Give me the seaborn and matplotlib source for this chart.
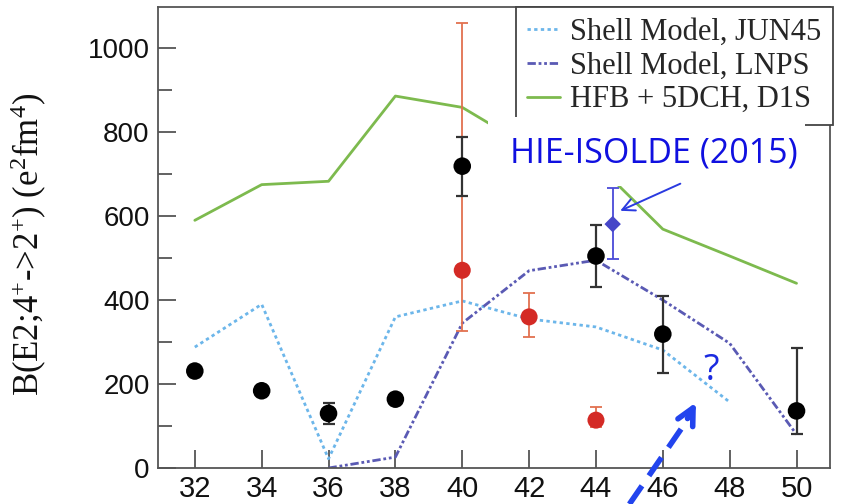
import matplotlib
matplotlib.use("Agg")
import matplotlib.pyplot as plt
import seaborn as sns
import numpy as np
import pandas as pd
from matplotlib.ticker import MultipleLocator
from matplotlib.patches import Rectangle

# ---------------- data ----------------
jun45_n = [32, 34, 36, 38, 40, 42, 44, 46, 48]
jun45 = [288, 390, 22, 360, 398, 355, 336, 281, 157]
lnps_n = [36, 38, 40, 42, 44, 46, 48, 50]
lnps = [0, 26, 345, 470, 495, 400, 297, 80]
hfb_n = [32, 34, 36, 38, 40, 42, 44, 46, 48, 50]
hfb = [590, 675, 683, 886, 859, 764, 726, 569, 505, 440]

black_n = [32, 34, 36, 38, 40, 44, 46, 50]
black_val = [231, 184, 130, 164, 719, 505, 319, 136]
black_lo = [0, 0, 25, 0, 71, 74, 93, 55]
black_hi = [0, 0, 25, 0, 69, 75, 91, 150]

red_n = [40, 42, 44]
red_val = [471, 360, 114]
red_lo = [145, 49, 17]
red_hi = [589, 56, 31]

hie_n = [44.5]
hie_val = [581]
hie_lo = [83]
hie_hi = [86]

legend_labels = ["Shell Model, JUN45", "Shell Model, LNPS", "HFB + 5DCH, D1S"]
ylabel = r"B(E2;4$^{+}$->2$^{+}$) (e$^{2}$fm$^{4}$)"
hie_label = "HIE-ISOLDE (2015)"

# ---------------- style ----------------
sns.set_theme(style="ticks")
plt.rcParams["font.family"] = ["Liberation Sans", "DejaVu Sans"]
plt.rcParams["mathtext.fontset"] = "custom"
plt.rcParams["mathtext.rm"] = "Liberation Serif"
plt.rcParams["mathtext.it"] = "Liberation Serif:italic"

fig = plt.figure(figsize=(8.42, 5.04), dpi=100)
ax = fig.add_axes([0.1877, 0.0714, 0.7980, 0.9146])

c_jun = "#6cb6ea"
c_lnps = "#5a5ab4"
c_hfb = "#7dba4e"

df_j = pd.DataFrame({"N": jun45_n, "B": jun45})
df_l = pd.DataFrame({"N": lnps_n, "B": lnps})
df_h = pd.DataFrame({"N": hfb_n, "B": hfb})

sns.lineplot(data=df_j, x="N", y="B", ax=ax, color=c_jun, lw=2.0,
             linestyle=(0, (1.2, 1.2)), label=legend_labels[0], zorder=2)
sns.lineplot(data=df_l, x="N", y="B", ax=ax, color=c_lnps, lw=2.0,
             linestyle=(0, (3, 1, 1, 1, 1, 1)), label=legend_labels[1], zorder=2)
sns.lineplot(data=df_h, x="N", y="B", ax=ax, color=c_hfb, lw=2.0,
             linestyle="-", label=legend_labels[2], zorder=2)

# error bars
ax.errorbar(red_n, red_val, yerr=[red_lo, red_hi], fmt="none",
            ecolor="#e2714f", elinewidth=1.3, capsize=4, capthick=1.3, zorder=3)
ax.errorbar(black_n, black_val, yerr=[black_lo, black_hi], fmt="none",
            ecolor="#333333", elinewidth=1.6, capsize=4, capthick=1.6, zorder=4)
ax.errorbar(hie_n, hie_val, yerr=[hie_lo, hie_hi], fmt="none",
            ecolor="#4a4ad8", elinewidth=1.3, capsize=4, capthick=1.3, zorder=4)

sns.scatterplot(x=red_n, y=red_val, ax=ax, color="#d42a25", s=150,
                edgecolor="none", zorder=5, legend=False)
sns.scatterplot(x=black_n, y=black_val, ax=ax, color="black", s=160,
                edgecolor="none", zorder=6, legend=False)
sns.scatterplot(x=hie_n, y=hie_val, ax=ax, color="#4646c8", s=70, marker="D",
                edgecolor="none", zorder=6, legend=False)

# axes
ax.set_xlim(30.9, 51.0)
ax.set_ylim(0, 1098)
ax.xaxis.set_major_locator(MultipleLocator(2))
ax.yaxis.set_major_locator(MultipleLocator(200))
ax.yaxis.set_minor_locator(MultipleLocator(100))
ax.tick_params(axis="both", which="major", direction="in", length=13, width=1.3,
               color="#555555", labelsize=20, pad=6, labelcolor="#111111")
ax.tick_params(axis="y", which="minor", direction="in", length=10, width=1.3,
               color="#555555")
ax.tick_params(axis="x", which="major", pad=5, labelsize=21)
for sp in ax.spines.values():
    sp.set_color("#555555")
    sp.set_linewidth(1.3)
ax.set_xlabel("")
ax.set_ylabel(ylabel, fontsize=25, family="Liberation Serif", color="#111111")
ax.yaxis.set_label_coords(-0.163, 0.484)

leg = ax.legend(loc="upper right", bbox_to_anchor=(1.004, 1.0), frameon=True,
                fancybox=False, framealpha=1, edgecolor="#444444",
                prop={"family": "Liberation Serif", "size": 22},
                handlelength=1.1, handletextpad=0.33, borderpad=0.36,
                labelspacing=0.15, borderaxespad=0)
leg.get_frame().set_linewidth(1.3)
leg.set_zorder(10)

# white backing of the annotation label (covers part of the HFB line / legend edge)
ax.add_patch(Rectangle((0.491, 0.612), 0.472, 0.149, transform=ax.transAxes,
                       facecolor="white", edgecolor="none", zorder=11))
ax.text(45.74, 749, hie_label, fontsize=24.5, family="Open Sans",
        color="#1010e0", ha="center", va="center", zorder=12)
ax.annotate("", xy=(44.65, 610), xytext=(46.6, 680),
            arrowprops=dict(arrowstyle="->", color="#2a3ae0", lw=1.4,
                            mutation_scale=22), zorder=13)
ax.text(47.45, 232, "?", fontsize=26, family="Open Sans", color="#1a2ae0",
        ha="center", va="center", zorder=7)
ax.plot([45.0, 46.85], [-86, 128], color="#2244ee", lw=4,
        linestyle=(0, (4, 2.2)), clip_on=False, zorder=8)
ax.annotate("", xy=(47.03, 162), xytext=(46.7, 112),
            arrowprops=dict(arrowstyle="->", color="#2244ee", lw=4,
                            mutation_scale=30), annotation_clip=False, zorder=8)

fig.savefig("out.png", dpi=100)
